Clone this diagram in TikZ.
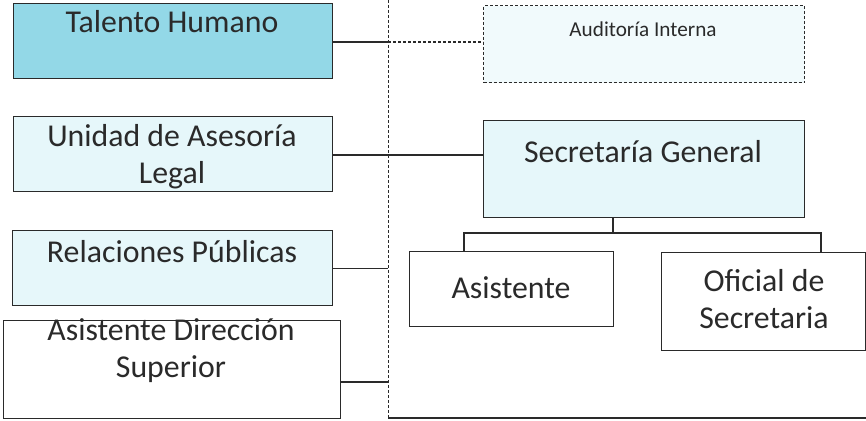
\documentclass[tikz,border=0pt]{standalone}
\usepackage{fontspec}
\setmainfont{Carlito}
\definecolor{cyanA}{HTML}{93D8E7}
\definecolor{cyanB}{HTML}{E6F7FA}
\definecolor{cyanC}{HTML}{F1FAFC}
\definecolor{ink}{HTML}{2A2A2A}
\begin{document}
\begin{tikzpicture}[x=1pt,y=-1pt,
  box/.style={draw=ink,line width=1.3pt,rectangle,inner sep=0pt,anchor=north west},
  big/.style={font=\fontsize{31.8}{37}\selectfont,text=ink,anchor=base,align=center,inner sep=0pt},
  small/.style={font=\fontsize{21.2}{25}\selectfont,text=ink,anchor=base,inner sep=0pt},
  conn/.style={draw=ink,line width=1.2pt},
  dconn/.style={draw=ink,line width=1.2pt,dash pattern=on 3pt off 2pt},
  vdash/.style={draw=ink,line width=0.9pt,dash pattern=on 3pt off 2pt}]
\useasboundingbox (0,0) rectangle (866,420);
\fill[white] (0,0) rectangle (866,420);
% left boxes
\node[box,fill=cyanA,minimum width=319pt,minimum height=75pt] (th) at (13,3) {};
\node[box,fill=cyanB,minimum width=319pt,minimum height=75pt] (ul) at (13,116) {};
\node[box,fill=cyanB,minimum width=320pt,minimum height=75pt] (rp) at (12,230) {};
\node[box,fill=white,minimum width=337pt,minimum height=98pt] (ad) at (3,320) {};
% right boxes
\node[box,fill=cyanC,dash pattern=on 3pt off 2pt,line width=1.2pt,minimum width=321pt,minimum height=77pt] (ai) at (483,5) {};
\node[box,fill=cyanB,minimum width=321pt,minimum height=97pt] (sg) at (483,120) {};
\node[box,fill=white,minimum width=204pt,minimum height=75pt] (as) at (409,251) {};
\node[box,fill=white,minimum width=204pt,minimum height=98pt] (of) at (661,252) {};
% texts (base anchor = baseline of last line)
\node[big] (tth) at (172,33) {Talento Humano};
\node[big] (tul) at (172,183) {Unidad de Asesoría\\Legal};
\node[big] (trp) at (172,262) {Relaciones Públicas};
\node[big] (tad) at (171,377) {Asistente Dirección\\Superior};
\node[small] (tai) at (643,37) {Auditoría Interna};
\node[big] (tsg) at (643,162) {Secretaría General};
\node[big] (tas) at (511,298) {Asistente};
\node[big] (tof) at (764,328) {Oficial de\\Secretaria};
% vertical dashed line and bottom line
\coordinate (vtop) at (388,0);
\coordinate (vbot) at (388,418);
\coordinate (rbot) at (866,418);
\draw[vdash] (vtop) -- (vbot);
\draw[conn] (vbot) -- (rbot);
% connectors
\coordinate (v1) at (388,42);
\draw[conn] (th.east |- v1) -- (v1);
\draw[dconn] (v1) -- (ai.west |- v1);
\coordinate (v2) at (388,155);
\draw[conn] (ul.east |- v2) -- (sg.west |- v2);
\draw[conn] (rp.east) -- (rp.east -| vtop);
\coordinate (v4) at (388,382);
\draw[conn] (ad.east |- v4) -- (v4);
% secretaria children
\coordinate (stem) at (613,233);
\coordinate (busl) at (464,233);
\coordinate (busr) at (821,233);
\draw[conn] (sg.south -| stem) -- (stem);
\draw[conn] (as.north -| busl) -- (busl) -- (busr) -- (of.north -| busr);
\end{tikzpicture}
\end{document}
